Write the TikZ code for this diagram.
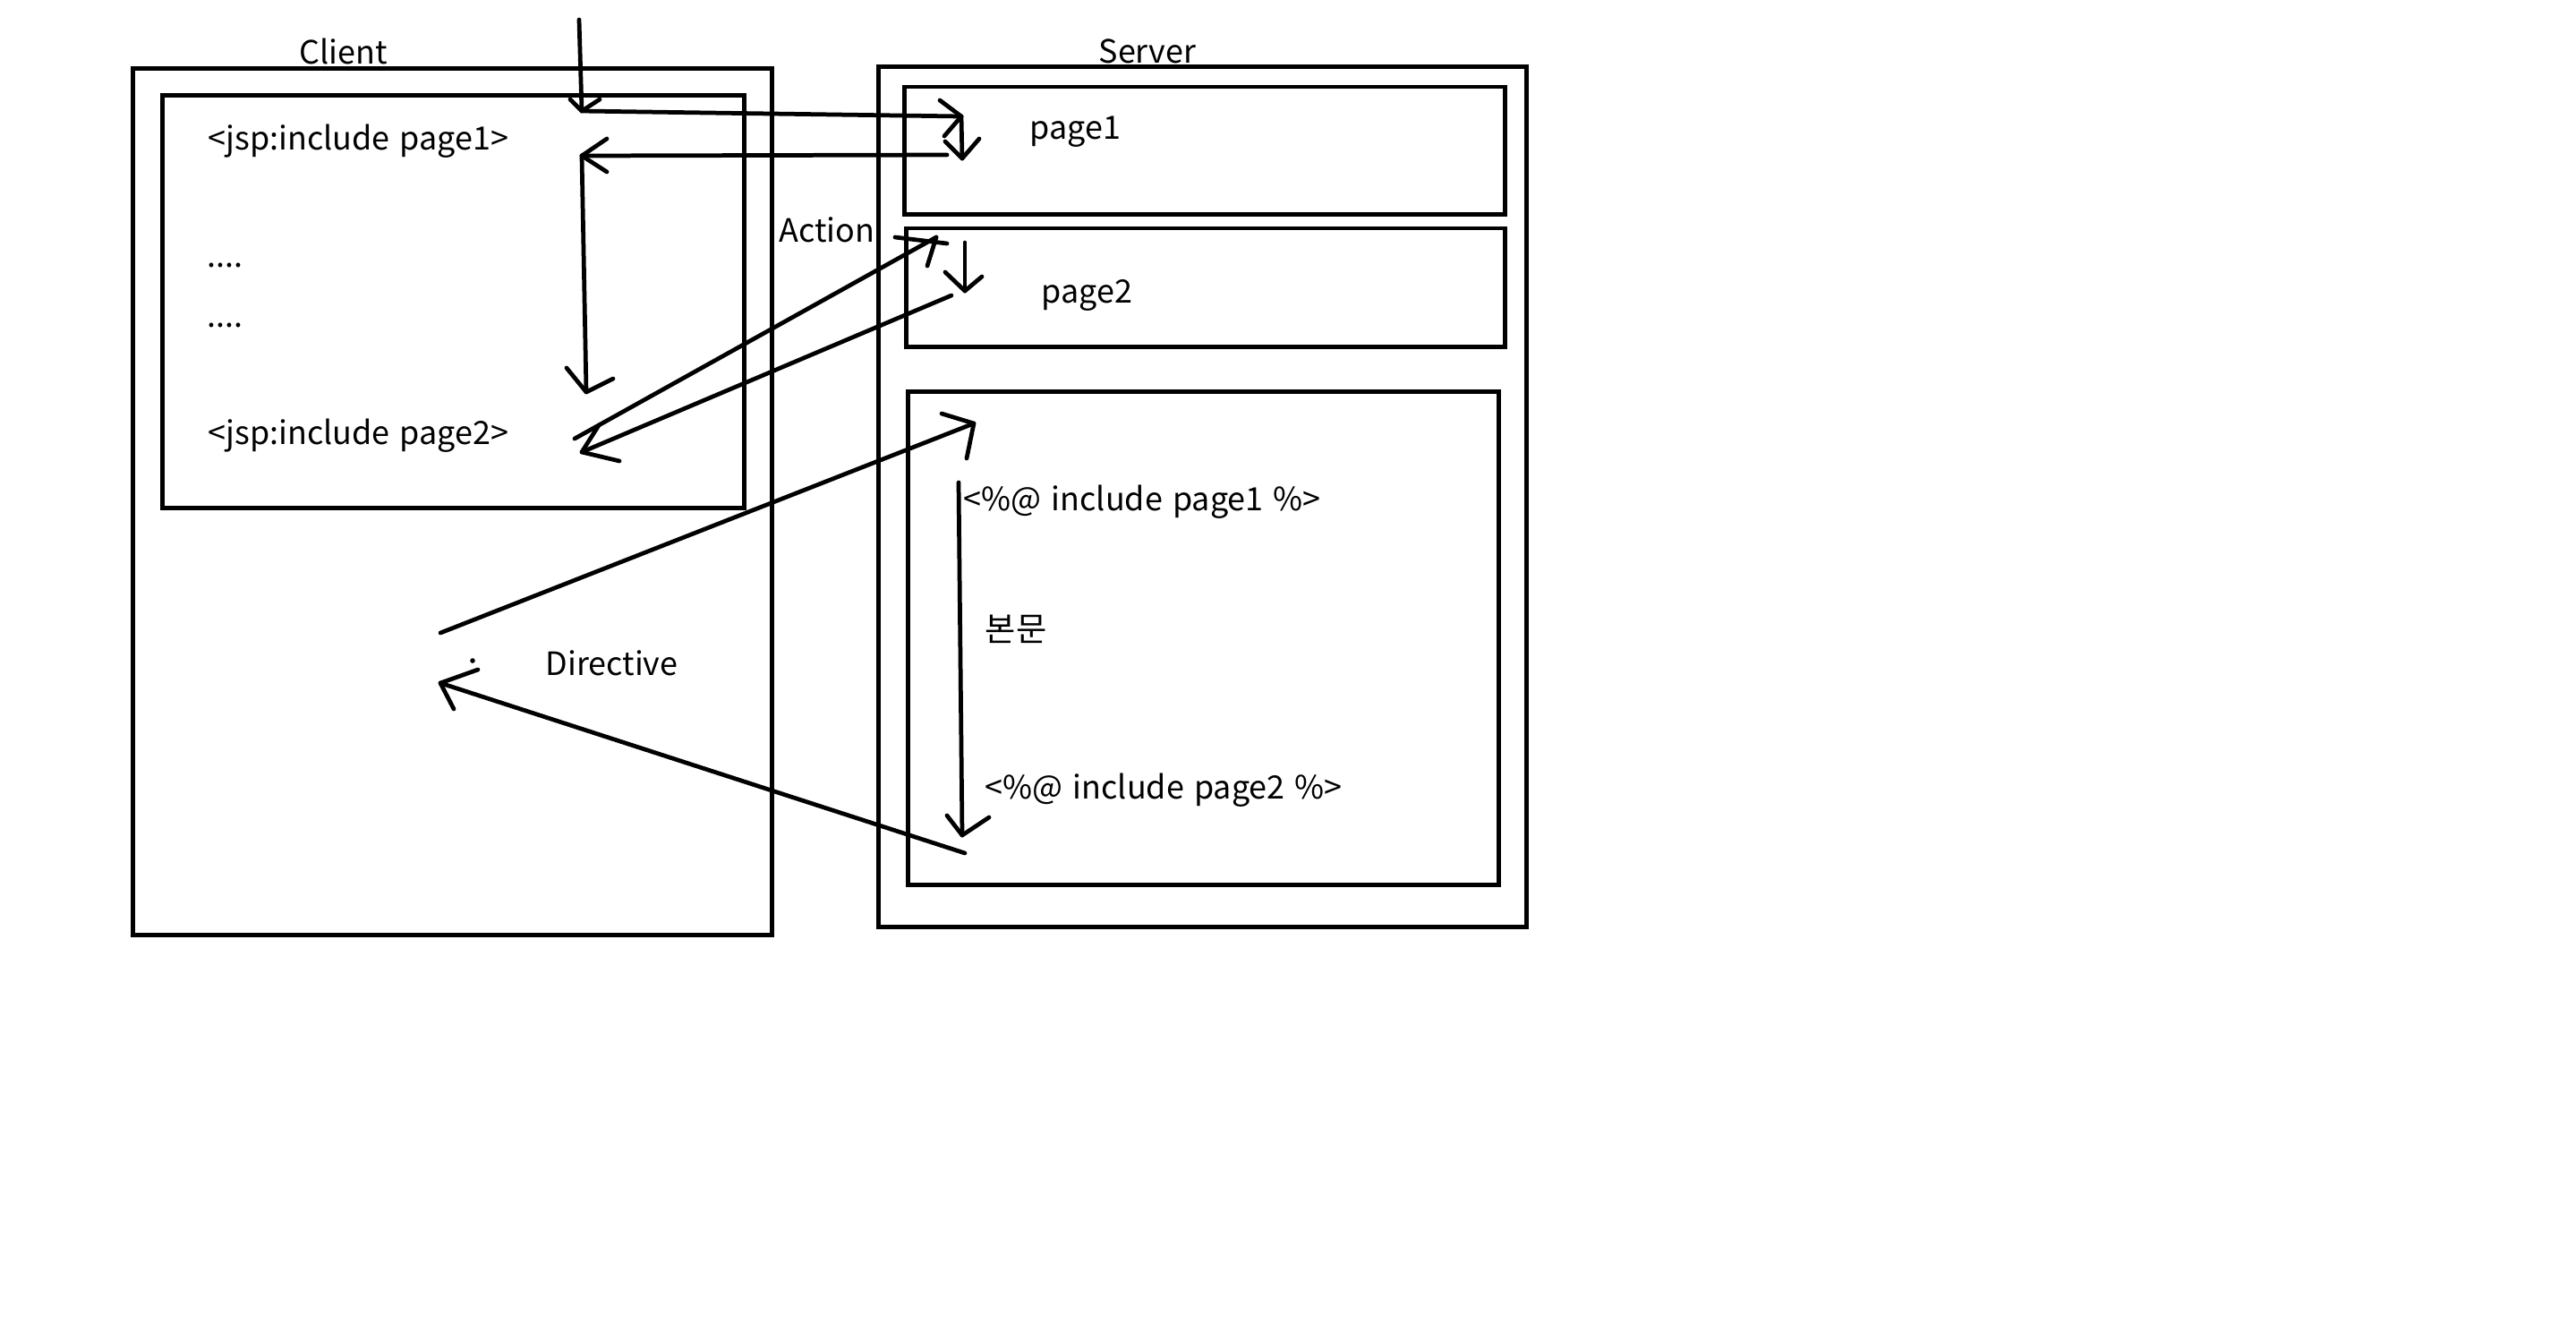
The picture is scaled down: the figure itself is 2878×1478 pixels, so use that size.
\documentclass[tikz,border=0pt]{standalone}
\usepackage{fontspec}
\setmainfont[WordSpace=1.4]{Noto Sans CJK KR}
\begin{document}
\begin{tikzpicture}[x=0.01cm,y=-0.01cm]
\tikzset{
  box/.style={draw, line width=1.4pt, line join=miter, rectangle, inner sep=0pt},
  arr/.style={line width=1.35pt, line cap=round, line join=round},
  txt/.style={font=\fontsize{10.2}{12}\selectfont, inner sep=0pt, anchor=base west},
}
\useasboundingbox[fill=white] (0,0) rectangle (2878,1478);
% boxes
\node[box, minimum width=7.13cm, minimum height=9.67cm] (client) at (505.5,560.5) {};
\node[box, minimum width=6.49cm, minimum height=4.60cm] (cin) at (506.5,337) {};
\node[box, minimum width=7.23cm, minimum height=9.60cm] (server) at (1343.5,555) {};
\node[box, minimum width=6.70cm, minimum height=1.42cm] (p1box) at (1346,168) {};
\node[box, minimum width=6.68cm, minimum height=1.32cm] (p2box) at (1347,321) {};
\node[box, minimum width=6.59cm, minimum height=5.50cm] (p3box) at (1344.5,713) {};
% texts
\node[txt, anchor=base] (tclient) at (384,71) {Client};
\node[txt, anchor=base] (tserver) at (1282,70) {Server};
\node[txt] (tp1) at (1150,155) {page1};
\node[txt] (tp2) at (1163,338) {page2};
\node[txt] (taction) at (870,270) {Action};
\node[txt] (tj1) at (232,167) {<jsp:include page1>};
\node[txt] (td1) at (231,298) {....};
\node[txt] (td2) at (231,365) {....};
\node[txt] (tj2) at (232,496) {<jsp:include page2>};
\node[txt] (tdir) at (609,754) {Directive};
\node[txt] (ti1) at (1076,570) {<\%@ include page1 \%>};
\node[txt, font=\fontsize{10.6}{12}\selectfont] (tbody) at (1100,716) {본문};
\node[txt] (ti2) at (1100,892) {<\%@ include page2 \%>};
\fill (528,738) circle (2.8);
% coordinates
\coordinate (a0) at (647,22);
\coordinate (a1) at (650,124);
\coordinate (a2) at (1074,130);
\coordinate (a3) at (1075,177);
\coordinate (c0) at (1058,173);
\coordinate (c1) at (650,174);
\coordinate (c2) at (655,438);
\coordinate (d0) at (642,490);
\coordinate (d1) at (1046,265);
\coordinate (e0) at (1078,271);
\coordinate (e1) at (1078,325);
\coordinate (e2) at (1063,330);
\coordinate (e3) at (650,505);
\coordinate (f0) at (492,707);
\coordinate (f1) at (1088,473);
\coordinate (g0) at (1071,539);
\coordinate (g1) at (1075,933);
\coordinate (h0) at (1078,953);
\coordinate (h1) at (492,763);
% arrow A: entry down, right, down
\draw[arr] (a0) -- (a1);
\draw[arr] (637,111) -- (a1) -- (670,111);
\draw[arr] (a1) -- (a2);
\draw[arr] (1050,112) -- (a2) -- (1055,152);
\draw[arr] (a2) -- (a3);
\draw[arr] (1056,158) -- (a3) -- (1094,155);
% arrow C: back from page1, then down
\draw[arr] (c0) -- (c1);
\draw[arr] (678,155) -- (c1) -- (678,192);
\draw[arr] (c1) -- (c2);
\draw[arr] (633,411) -- (c2) -- (685,423);
% arrow D: action up
\draw[arr] (d0) -- (d1);
\draw[arr] (1000,265) -- (1058,272);
\draw[arr] (d1) -- (1036,297);
% arrow E: page2 down, back
\draw[arr] (e0) -- (e1);
\draw[arr] (1056,304) -- (e1) -- (1097,309);
\draw[arr] (e2) -- (e3);
\draw[arr] (669,475) -- (e3) -- (692,515);
% arrow F: directive up
\draw[arr] (f0) -- (f1);
\draw[arr] (1052,462) -- (f1) -- (1080,512);
% arrow G: body down
\draw[arr] (g0) -- (g1);
\draw[arr] (1058,911) -- (g1) -- (1105,913);
% arrow H: directive back
\draw[arr] (h0) -- (h1);
\draw[arr] (534,748) -- (h1) -- (507,792);
\end{tikzpicture}
\end{document}
